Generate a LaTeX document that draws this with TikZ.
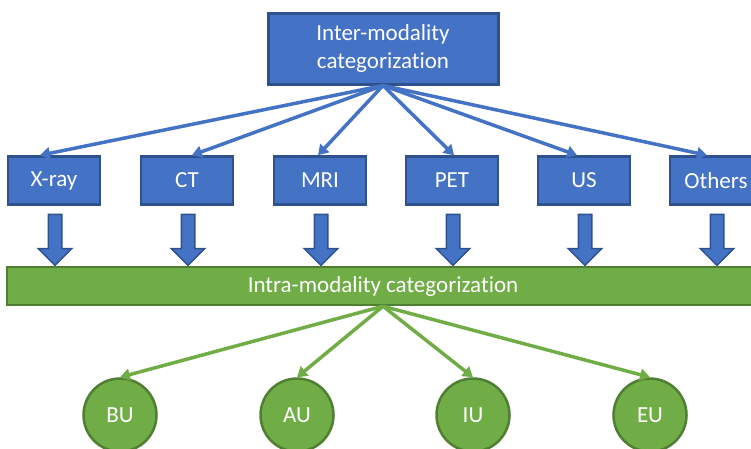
\documentclass[tikz,border=0pt]{standalone}
\usepackage{fontspec}
\setmainfont{Carlito}[Ligatures=NoCommon]
\usetikzlibrary{shapes.arrows,arrows.meta}
\definecolor{bluefill}{HTML}{4472C4}
\definecolor{blueline}{HTML}{2F528F}
\definecolor{greenfill}{HTML}{70AD47}
\definecolor{greenline}{HTML}{507E32}
\tikzset{
  labelfont/.style={text=white,font=\fontsize{23}{28}\selectfont},
  topbox/.style={labelfont,draw=blueline,fill=bluefill,line width=3pt,minimum width=230pt,minimum height=71pt,align=center},
  modbox/.style={labelfont,draw=blueline,fill=bluefill,line width=2.5pt,minimum width=92pt,minimum height=48pt},
  downarrow/.style={single arrow,draw=blueline,fill=bluefill,line width=1.5pt,shape border rotate=270,inner sep=6pt,minimum height=51pt,minimum width=33pt,single arrow head extend=10pt},
  intrabar/.style={labelfont,draw=greenline,fill=greenfill,line width=2.5pt,minimum width=752pt,minimum height=38pt},
  classnode/.style={labelfont,circle,draw=greenline,fill=greenfill,line width=2.5pt,minimum size=73pt,inner sep=0pt},
  bluelink/.style={draw=bluefill,line width=3.5pt,-{Triangle[length=10pt,width=12pt]}},
  greenlink/.style={draw=greenfill,line width=3.5pt,-{Triangle[length=10pt,width=12pt]}}
}
\begin{document}
\begin{tikzpicture}[x=1pt,y=-1pt]
	\useasboundingbox (0,0) rectangle (751,448);
	\clip (0,0) rectangle (751,448);
	\node[topbox] (inter) at (383,48.5) {Inter-modality\\categorization};
	\node[intrabar] (intra) at (383,286) {Intra-modality categorization};
	\foreach \name/\lbl/\x/\dx in {xray/X-ray/54/-14, ct/CT/187/5, mri/MRI/320/-2, pet/PET/452/2, us/US/584/-7, oth/Others/716/-9}{
		\node[modbox] (\name) at (\x,180.5) {\lbl};
		\node[downarrow] (\name-arr) at (\x+1,236.5) {};
		\draw[bluelink] (inter.south) -- ([xshift=\dx pt]\name.north);
	}
	\foreach \name/\lbl/\x in {bu/BU/120, au/AU/297, iu/IU/473, eu/EU/650}{
		\node[classnode] (\name) at (\x,415) {\lbl};
		\draw[greenlink] (intra.south) -- (\name.north);
	}
\end{tikzpicture}
\end{document}
